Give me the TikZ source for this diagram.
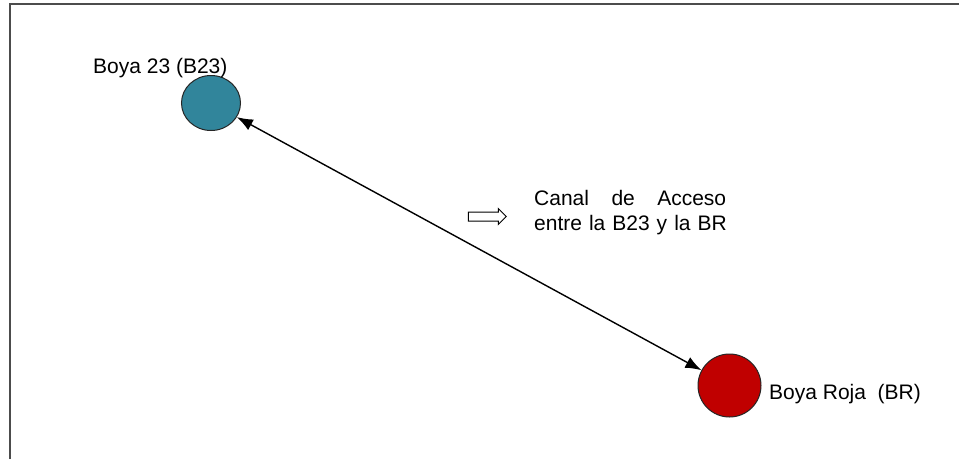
\documentclass[tikz,border=0pt]{standalone}
\usepackage{fontspec}
\setmainfont{Liberation Sans}
\usetikzlibrary{shapes.geometric,shapes.arrows,arrows.meta}
\definecolor{buoyteal}{RGB}{49,133,155}
\definecolor{buoyred}{RGB}{192,0,0}
\begin{document}
\begin{tikzpicture}[x=1pt,y=1pt,
    buoy/.style={ellipse,draw=black!85,line width=1pt,inner sep=0pt},
    lbl/.style={font=\fontsize{21}{25}\selectfont,inner sep=0pt}]
    \useasboundingbox (0,0) rectangle (959,-459);

    % frame
    \draw[line width=2.5pt,black!70] (10,-459) -- (10,-4) -- (959,-4);

    % buoys
    \node[buoy,fill=buoyteal,minimum width=59,minimum height=55] (b23) at (211,-103) {};
    \node[buoy,fill=buoyred,minimum width=63,minimum height=63] (br) at (729.5,-385.5) {};
    \node[lbl,anchor=base west] (b23lbl) at (93,-73) {Boya 23 (B23)};
    \node[lbl,anchor=base west] (brlbl) at (769,-399) {Boya Roja\ \ (BR)};

    \draw[{Latex[length=16pt,width=12pt]}-{Latex[length=16pt,width=12pt]},line width=1.4pt] (b23) -- (br);

    % channel note
    \node[single arrow,draw,line width=1pt,minimum height=38,minimum width=15,
          single arrow head extend=3.5pt,inner xsep=0pt,inner ysep=4pt] (dir) at (485,-216.5) {};
    \node[lbl,anchor=north west,text width=210,align=left] (canal) at (534,-190)
        {\hbox to 192pt{Canal\hfill de\hfill Acceso}\\entre la B23 y la BR};
\end{tikzpicture}
\end{document}
